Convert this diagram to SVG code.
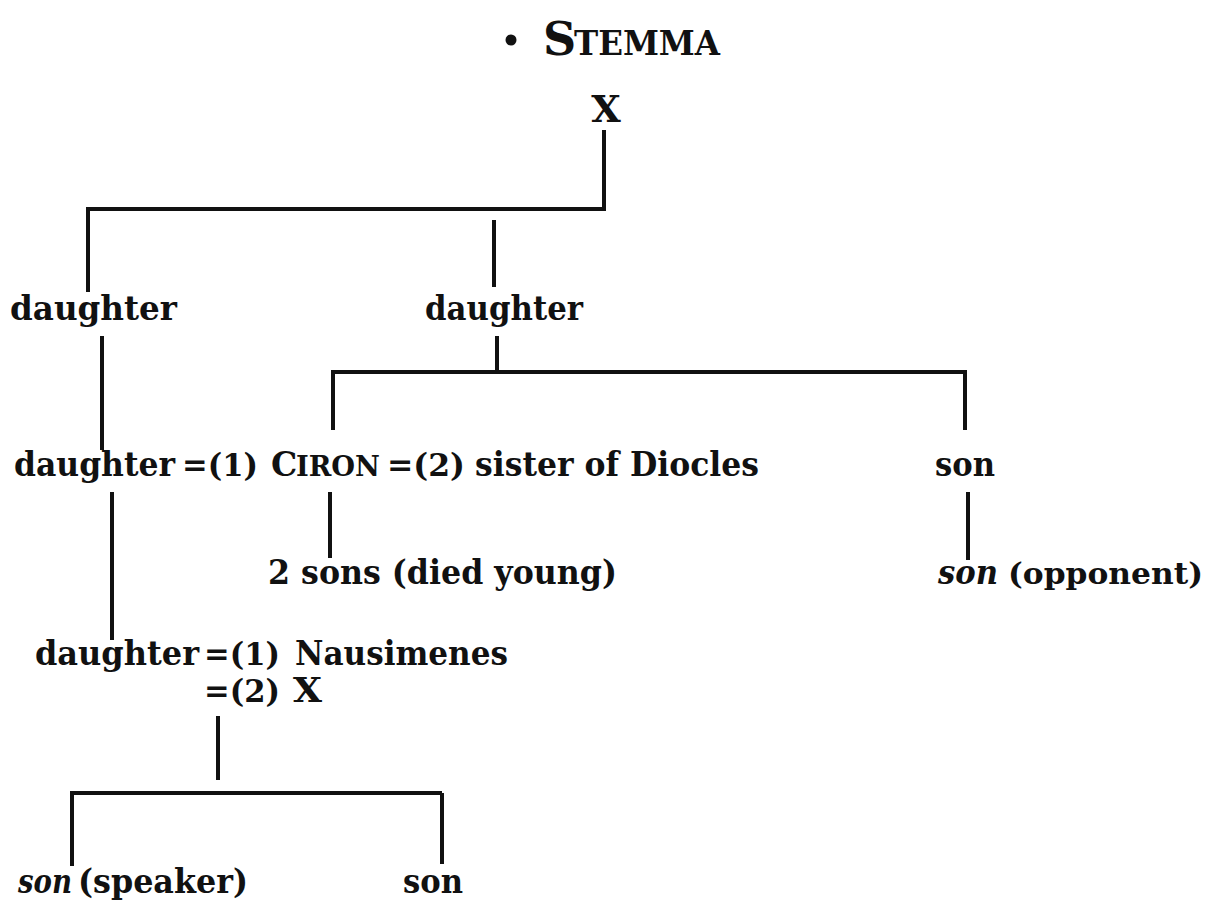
<svg xmlns="http://www.w3.org/2000/svg" width="1207" height="906" viewBox="0 0 1207 906">
<style>
  .t { font-family: "DejaVu Serif", "Liberation Serif", serif; font-size: 33px; fill: #111; font-weight: bold; }
  .i { font-style: italic; }
  .ln { stroke: #111; stroke-width: 4; fill: none; stroke-linecap: butt; }
</style>
<rect width="1207" height="906" fill="#fff"/>
<g id="title">
  <circle cx="511" cy="40" r="5.5" fill="#111"/>
  <text class="t" x="543" y="55" style="font-size:46px">S</text>
  <text class="t" x="574" y="55" textLength="146" lengthAdjust="spacingAndGlyphs">TEMMA</text>
</g>
<g id="connectors">
  <path class="ln" d="M604 130 V209 M86 209 H606 M88 209 V292 M494 220 V287"/>
  <path class="ln" d="M102 336 V450 M497 336 V372 M331 372 H967 M333 372 V430 M965 372 V430"/>
  <path class="ln" d="M330 492 V558 M968 492 V560 M112 492 V640"/>
  <path class="ln" d="M218 716 V780 M70 793 H442 M72 793 V866 M442 793 V864"/>
</g>
<g id="n-x"><text class="t" x="606" y="122" text-anchor="middle" style="font-size:38px">X</text></g>
<g id="n-daughter-l"><text class="t" x="10" y="320" textLength="167" lengthAdjust="spacingAndGlyphs">daughter</text></g>
<g id="n-daughter-m"><text class="t" x="425" y="320" textLength="158" lengthAdjust="spacingAndGlyphs">daughter</text></g>
<g id="n-ciron">
  <text class="t" x="14" y="476" textLength="161" lengthAdjust="spacingAndGlyphs">daughter</text>
  <text class="t" x="182" y="476" textLength="76" lengthAdjust="spacingAndGlyphs" style="font-size:31px">=(1)</text>
  <text class="t" x="271" y="476">C</text>
  <text class="t" x="296" y="476" textLength="84" lengthAdjust="spacingAndGlyphs" style="font-size:27px">IRON</text>
  <text class="t" x="387" y="476" textLength="78" lengthAdjust="spacingAndGlyphs" style="font-size:31px">=(2)</text>
  <text class="t" x="475" y="476" textLength="284" lengthAdjust="spacingAndGlyphs">sister of Diocles</text>
</g>
<g id="n-son-r"><text class="t" x="935" y="476" textLength="60" lengthAdjust="spacingAndGlyphs">son</text></g>
<g id="n-2sons"><text class="t" x="268" y="584" textLength="349" lengthAdjust="spacingAndGlyphs">2 sons (died young)</text></g>
<g id="n-opponent">
  <text class="t i" x="938" y="584" textLength="60" lengthAdjust="spacingAndGlyphs">son</text>
  <text class="t" x="1008" y="584" textLength="195" lengthAdjust="spacingAndGlyphs" style="font-size:30px">(opponent)</text>
</g>
<g id="n-nausimenes">
  <text class="t" x="35" y="665" textLength="164" lengthAdjust="spacingAndGlyphs">daughter</text>
  <text class="t" x="204" y="665" textLength="76" lengthAdjust="spacingAndGlyphs" style="font-size:31px">=(1)</text>
  <text class="t" x="295" y="665" textLength="213" lengthAdjust="spacingAndGlyphs">Nausimenes</text>
  <text class="t" x="204" y="702" textLength="76" lengthAdjust="spacingAndGlyphs" style="font-size:31px">=(2)</text>
  <text class="t" x="293" y="702" textLength="29" lengthAdjust="spacingAndGlyphs">X</text>
</g>
<g id="n-speaker">
  <text class="t i" x="18" y="893" textLength="54" lengthAdjust="spacingAndGlyphs">son</text>
  <text class="t" x="78" y="893" textLength="170" lengthAdjust="spacingAndGlyphs">(speaker)</text>
</g>
<g id="n-son-b"><text class="t" x="403" y="893" textLength="60" lengthAdjust="spacingAndGlyphs">son</text></g>
</svg>
